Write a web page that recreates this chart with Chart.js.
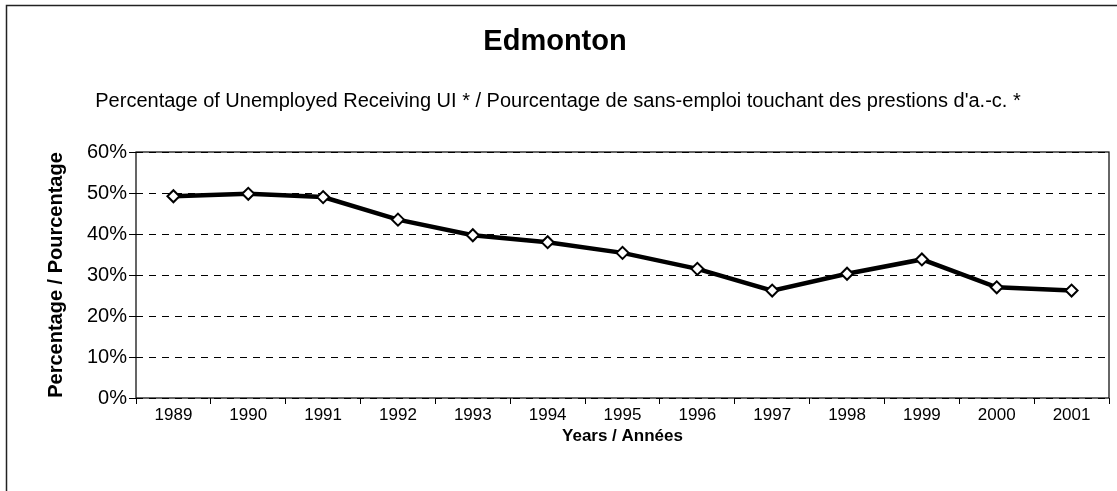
<!DOCTYPE html>
<html>
<head>
<meta charset="utf-8">
<script src="https://cdn.jsdelivr.net/npm/chart.js@4.4.1/dist/chart.umd.min.js"></script>
<style>
  html, body { margin: 0; padding: 0; background: #fff; }
  #wrap { width: 1117px; height: 491px; position: relative; }
</style>
</head>
<body>
<div id="wrap"><canvas id="c" width="1117" height="491"></canvas></div>
<script>
// Edmonton: share of unemployed receiving UI benefits, 1989-2001
const years = ['1989','1990','1991','1992','1993','1994','1995','1996','1997','1998','1999','2000','2001'];
const percentReceiving = [49.2, 49.8, 49.0, 43.5, 39.7, 38.0, 35.4, 31.5, 26.2, 30.3, 33.8, 27.0, 26.2];
const yTicks = [0, 10, 20, 30, 40, 50, 60];

const titleText = 'Edmonton';
const subtitleText = "Percentage of Unemployed Receiving UI * / Pourcentage de sans-emploi touchant des prestions d'a.-c. *";
const xTitle = 'Years / Années';
const yTitle = 'Percentage / Pourcentage';

const FONT = '"Liberation Sans", Arial, sans-serif';

// Outer frame, headings and the solid plot-area frame
const decor = {
  id: 'decor',
  beforeDraw(chart) {
    const ctx = chart.ctx;
    ctx.save();
    ctx.fillStyle = '#fff';
    ctx.fillRect(0, 0, chart.width, chart.height);
    ctx.strokeStyle = '#222';
    ctx.lineWidth = 1.5;
    ctx.beginPath();
    ctx.moveTo(6.5, chart.height + 5);
    ctx.lineTo(6.5, 5.5);
    ctx.lineTo(chart.width + 5, 5.5);
    ctx.stroke();
    ctx.fillStyle = '#000';
    ctx.textAlign = 'center';
    ctx.textBaseline = 'middle';
    ctx.font = 'bold 29px ' + FONT;
    ctx.fillText(titleText, 555, 42);
    ctx.font = '20px ' + FONT;
    ctx.fillText(subtitleText, 558, 101);
    ctx.restore();
  },
  afterDatasetsDraw(chart) {
    const a = chart.chartArea;
    const ctx = chart.ctx;
    ctx.save();
    ctx.strokeStyle = '#000';
    ctx.lineWidth = 1.2;
    ctx.strokeRect(a.left, a.top, a.right - a.left, a.bottom - a.top);
    ctx.restore();
  }
};

new Chart(document.getElementById('c'), {
  type: 'line',
  data: {
    labels: years,
    datasets: [{
      data: percentReceiving,
      borderColor: '#000',
      borderWidth: 4.5,
      pointStyle: 'rectRot',
      pointRadius: 6,
      pointBorderWidth: 2,
      pointBackgroundColor: '#fff',
      pointBorderColor: '#000',
      tension: 0,
      clip: false
    }]
  },
  options: {
    responsive: false,
    animation: false,
    devicePixelRatio: 1,
    layout: { padding: { left: 0, top: 152, right: 7, bottom: 0 } },
    plugins: { legend: { display: false }, tooltip: { enabled: false }, title: { display: false } },
    scales: {
      x: {
        offset: true,
        afterFit(scale) { scale.height = 93; },
        grid: { offset: true, drawOnChartArea: false, tickLength: 6, color: '#000', lineWidth: 1 },
        border: { display: false },
        ticks: { color: '#000', font: { family: FONT, size: 17 }, padding: 1, maxRotation: 0, autoSkip: false },
        title: { display: true, text: xTitle, color: '#000', font: { family: FONT, size: 17, weight: 'bold' }, padding: { top: 44, bottom: 44 } }
      },
      y: {
        min: 0,
        max: 60,
        afterFit(scale) { scale.width = 136; },
        afterBuildTicks(scale) { scale.ticks = yTicks.map(v => ({ value: v })); },
        grid: { color: '#000', lineWidth: 1, tickLength: 7, tickBorderDash: [] },
        border: { display: false, dash: [7, 6] },
        ticks: { color: '#000', font: { family: FONT, size: 20 }, padding: 2, callback: v => v + '%' },
        title: { display: true, text: yTitle, color: '#000', font: { family: FONT, size: 20, weight: 'bold' }, padding: { top: 44, bottom: 0 } }
      }
    }
  },
  plugins: [decor]
});
</script>
</body>
</html>
